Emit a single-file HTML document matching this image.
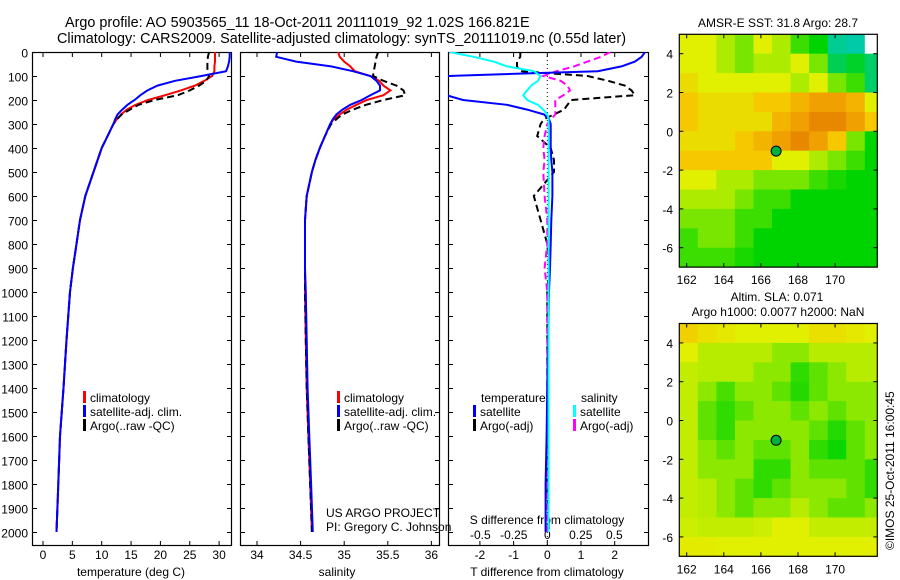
<!DOCTYPE html>
<html><head><meta charset="utf-8">
<style>
body{margin:0;background:#fff;}
svg{display:block;font-family:"Liberation Sans",sans-serif;}
text{fill:#000;}
</style></head>
<body>
<svg id="fig" width="900" height="580" viewBox="0 0 900 580" xmlns="http://www.w3.org/2000/svg">
<text x="65" y="27" font-size="14.4">Argo profile: AO 5903565_11 18-Oct-2011 20111019_92 1.02S 166.821E</text>
<text x="57" y="43" font-size="14.4">Climatology: CARS2009. Satellite-adjusted climatology: synTS_20111019.nc (0.55d later)</text>
<text x="778" y="27" font-size="12" text-anchor="middle">AMSR-E SST: 31.8 Argo: 28.7</text>
<text x="777" y="301" font-size="12" text-anchor="middle">Altim. SLA: 0.071</text>
<text x="778" y="316" font-size="12" text-anchor="middle">Argo h1000: 0.0077 h2000: NaN</text>
<text x="0" y="0" font-size="12" transform="translate(894,550) rotate(-90)">©IMOS 25-Oct-2011 16:00:45</text>
<text x="326" y="517" font-size="12">US ARGO PROJECT</text>
<text x="326" y="531" font-size="12">PI: Gregory C. Johnson</text>
<g id="layer"></g>
</svg>
<script>
// ---------- data ----------
const depths = [0,20,40,60,80,100,120,140,160,180,200,220,240,260,280,300,350,400,450,500,600,700,800,900,1000,1200,1400,1600,1800,2000];
const tempClim = [29.3,29.3,29.3,29.2,29.2,28.8,27.5,25.9,23.5,20.8,17.9,15.8,14.3,13.3,12.6,12.0,11.0,10.0,9.3,8.6,7.2,6.3,5.7,5.1,4.6,4.0,3.5,2.9,2.6,2.3];
const tempSat  = [31.8,31.8,31.7,31.5,31.2,27.0,22.5,19.5,17.8,16.6,15.6,14.4,13.5,12.7,12.3,12.0,11.0,10.0,9.3,8.6,7.2,6.3,5.7,5.1,4.6,4.0,3.5,2.9,2.6,2.3];
const tempArgo = [28.3,28.1,28.0,28.0,28.0,28.3,27.8,26.6,25.0,23.0,19.0,16.3,14.8,13.4,12.6,12.0,11.0,10.0,9.3,8.6,7.2,6.3,5.7,5.1,4.6,4.0,3.5,2.9,2.6,2.3];
const salClim = [34.93,34.95,35.0,35.07,35.12,35.3,35.4,35.45,35.53,35.45,35.26,35.14,35.03,34.95,34.88,34.84,34.78,34.72,34.67,34.63,34.57,34.55,34.55,34.55,34.55,34.56,34.57,34.59,34.61,34.63];
const salSat  = [34.23,34.22,34.45,34.85,35.1,35.3,35.37,35.41,35.41,35.3,35.2,35.07,34.98,34.91,34.87,34.84,34.78,34.72,34.67,34.63,34.57,34.55,34.55,34.55,34.56,34.57,34.58,34.6,34.62,34.64];
const salArgo = [35.39,35.37,35.36,35.35,35.34,35.33,35.45,35.6,35.68,35.7,35.45,35.25,35.1,34.98,34.91,34.85,34.78,34.72,34.67,34.63,34.57,34.55,34.55,34.55,34.55,34.56,34.57,34.59,34.61,34.63];
const tDiffSat  = [2.9,2.8,2.6,2.2,1.5,-3.0,-3.0,-3.0,-3.0,-3.0,-2.5,-1.2,-0.6,-0.1,0.05,0.1,0.1,0.1,0.12,0.15,0.15,0.12,0.1,0.08,0.05,0.03,0.0,-0.02,-0.05,-0.05];
const tDiffArgo = [-0.8,-0.8,-0.9,-0.9,-0.8,1.2,1.8,2.3,2.5,2.6,0.7,0.6,0.5,0.2,-0.1,-0.2,-0.3,0.1,0.2,0.2,-0.4,-0.2,0.0,0.05,0.0,0.0,0.0,0.0,0.0,0.05];
const sDiffSat  = [-0.73,-0.55,-0.4,-0.3,-0.1,-0.05,-0.07,-0.12,-0.15,-0.18,-0.15,-0.07,-0.03,0.0,0.01,0.01,0.01,0.01,0.01,0.01,0.01,0.01,0.01,0.01,0.01,0.01,0.01,0.01,0.01,0.01];
const sDiffArgo = [0.47,0.4,0.3,0.2,0.07,-0.03,0.1,0.15,0.17,0.12,0.06,0.06,0.06,0.06,0.03,0.0,-0.02,-0.03,-0.02,-0.03,-0.02,0.0,0.0,-0.02,0.0,0.0,0.0,0.0,0.0,0.0];
const depthTicks = [0,100,200,300,400,500,600,700,800,900,1000,1100,1200,1300,1400,1500,1600,1700,1800,1900,2000];
const tempTicks = [0,5,10,15,20,25,30];
const salTicks = [34,34.5,35,35.5,36];
const tdTicks = [-2,-1,0,1,2];
const sdTicks = [-0.5,-0.25,0,0.25,0.5];
const lonTicks = [162,164,166,168,170];
const latTicks = [4,2,0,-2,-4,-6];
// SST map (rows lat 5 -> -7, cols 1 deg from 161.6E); -1 = no data
const sstGrid = [
[3,3,2.5,2,3,2.5,1.5,1,0.3,0.2,-1],
[3,3,2.5,2,2.5,2.5,3,2,0.6,0.8,0.5],
[3.5,3,3,3,3,3,2.5,3,2,1.5,0.5],
[4,3.5,3.5,3.5,4,4,4.5,5,5,4.5,3],
[4,3.5,3.5,3.5,3.5,4.5,5,5.5,5.5,5,4],
[3.5,3.5,3.5,4,4.5,5,5.5,5,4,2,1],
[4,4,4,4,4,3,3,2.5,2,1.5,1],
[3,3,2.5,2.5,2,2,2,1.5,1.2,1,1],
[2.5,2.5,2.5,2,1.5,1.5,1,1,1,1,1],
[2,2,2,1.5,1.5,1,1,1,1,1,1],
[1.5,2,2,1.5,1,1,1,1,1,1,1],
[1.5,1.5,1.5,1.2,1,1,1,1,1,1,1]];
const slaGrid = [
[3.8,3.4,3.2,3,3,3,3,3.4,3.4,3.2,3],
[3,2.6,2.6,2.6,2.6,2.2,2.2,2.6,2.6,2.6,2.6],
[2.7,2.6,2.6,2.6,2.2,2.2,1.4,1.8,2.2,2.6,2.6],
[2.7,2.2,1.6,2.2,2.2,1.8,1.3,1.8,2.2,2.2,2.2],
[2.7,1.8,1.4,1.8,2.2,2.2,1.8,2.2,1.8,2.2,2.2],
[2.7,1.8,1.4,2.2,2.2,2.2,2.2,1.8,1.3,1.8,2.2],
[2.7,2.2,1.8,2.2,1.8,1.8,2.2,1.4,1.1,1.8,2.2],
[2.7,2.2,2.2,2.2,1.4,1.4,2.2,1.8,1.8,1.8,1.4],
[2.7,2.6,2.2,1.8,1.4,1.8,2.2,2.2,2.2,1.8,1.4],
[2.7,2.6,2.2,1.8,2.2,2.2,2.6,2.2,1.8,1.8,2.2],
[2.8,2.7,2.7,2.7,2.8,3,3,2.7,2.7,2.7,2.7],
[3.1,3.1,3,3,3,3,3,3,3,3,3]];
const argoLon = 166.82, argoLat = -1.02;

// ---------- helpers ----------
const NS="http://www.w3.org/2000/svg";
const layer=document.getElementById('layer');
function mk(tag,attrs,parent){const e=document.createElementNS(NS,tag);for(const k in attrs)e.setAttribute(k,attrs[k]);(parent||layer).appendChild(e);return e;}
const yD = d => 52 + d*0.24;
const PB = 545, PT = 52;
const panels = [
 {x0:32,x1:231,name:'temperature-panel', f:v=>43+v*5.87},
 {x0:240,x1:439,name:'salinity-panel', f:v=>257+(v-34)*87.2},
 {x0:448,x1:648,name:'difference-panel', f:v=>547.3+v*33.7, g:v=>547.3+v*134}
];
panels.forEach((p,i)=>{
  const cp=mk('clipPath',{id:'clip'+i});
  mk('rect',{x:p.x0,y:PT,width:p.x1-p.x0,height:PB-PT},cp);
});
function line(xs,i,color,name,dash){
  const pts=depths.map((d,k)=>xs[k].toFixed(1)+','+yD(d).toFixed(1)).join(' ');
  const e=mk('polyline',{points:pts,fill:'none',stroke:color,'stroke-width':2,'clip-path':'url(#clip'+i+')'});
  if(dash)e.setAttribute('stroke-dasharray',dash);
  
  
}
function txt(x,y,s,anchor,name,size){
  const e=mk('text',{x:x,y:y,'font-size':size||12,'text-anchor':anchor||'start'});
  e.textContent=s;
  
  
  return e;
}
function tick(x1,y1,x2,y2){
  const e=mk('line',{x1:x1,y1:y1,x2:x2,y2:y2,stroke:'#000','stroke-width':1});
  
  
}

// frames and axes
panels.forEach((p,i)=>{
  const r=mk('rect',{x:p.x0+0.5,y:PT+0.5,width:p.x1-p.x0,height:PB-PT,fill:'none',stroke:'#000','stroke-width':1.2});
  
  
  depthTicks.forEach(d=>{
    const y=yD(d)+0.5;
    tick(p.x0,y,p.x0+5,y);tick(p.x1-4,y,p.x1+1,y);
    if(i===0) txt(28,y+5,String(d),'end','depth-tick-label',12);
  });
});
tempTicks.forEach(v=>{const x=panels[0].f(v);tick(x,PT,x,PT+5);tick(x,PB-4,x,PB);txt(x,559,String(v),'middle','temperature-tick-label');});
salTicks.forEach(v=>{const x=panels[1].f(v);tick(x,PT,x,PT+5);tick(x,PB-4,x,PB);txt(x,559,String(v),'middle','salinity-tick-label');});
tdTicks.forEach(v=>{const x=panels[2].f(v);tick(x,PT,x,PT+5);tick(x,PB-4,x,PB);txt(x,559,String(v),'middle','t-diff-tick-label');});
sdTicks.forEach(v=>{const x=panels[2].g(v);txt(x,539,String(v),'middle','s-diff-tick-label');});
txt(131,576,'temperature (deg C)','middle','temperature-axis-title');
txt(337,576,'salinity','middle','salinity-axis-title');
txt(547,576,'T difference from climatology','middle','t-diff-axis-title');
txt(547,524,'S difference from climatology','middle','s-diff-axis-title');

// zero dotted line
const zl=mk('line',{x1:547.3,y1:PT,x2:547.3,y2:PB,stroke:'#000','stroke-width':1,'stroke-dasharray':'1,3'});



// series
line(tempClim.map(panels[0].f),0,'#ff0000','temperature-climatology-line');
line(tempArgo.map(panels[0].f),0,'#000000','temperature-argo-line','7,4');
line(tempSat.map(panels[0].f),0,'#0000ff','temperature-satellite-line');
line(salClim.map(panels[1].f),1,'#ff0000','salinity-climatology-line');
line(salArgo.map(panels[1].f),1,'#000000','salinity-argo-line','7,4');
line(salSat.map(panels[1].f),1,'#0000ff','salinity-satellite-line');
line(tDiffArgo.map(panels[2].f),2,'#000000','t-diff-argo-line','7,4');
line(sDiffArgo.map(panels[2].g),2,'#ff00ff','s-diff-argo-line','7,4');
line(tDiffSat.map(panels[2].f),2,'#0000ff','t-diff-satellite-line');
line(sDiffSat.map(panels[2].g),2,'#00ffff','s-diff-satellite-line');

// legends
function leg(x,y,color,label){
  const m=mk('rect',{x:x,y:y-11,width:3,height:12,fill:color});
  
  
  txt(x+7,y,label,'start','legend-entry');
}
[[83,'#ff0000','climatology'],[83,'#0000ff','satellite-adj. clim.'],[83,'#000000','Argo(..raw -QC)']].forEach((l,k)=>leg(l[0],402+k*14,l[1],l[2]));
[[337,'#ff0000','climatology'],[337,'#0000ff','satellite-adj. clim.'],[337,'#000000','Argo(..raw -QC)']].forEach((l,k)=>leg(l[0],402+k*14,l[1],l[2]));
txt(481,402,'temperature','start','legend-temperature-header');
txt(581,402,'salinity','start','legend-salinity-header');
leg(473,416,'#0000ff','satellite');leg(473,430,'#000000','Argo(-adj)');
leg(573,416,'#00ffff','satellite');leg(573,430,'#ff00ff','Argo(-adj)');

// maps
const stops=[[0,[0,200,210]],[1,[0,212,0]],[2,[120,230,0]],[3,[225,240,0]],[4,[245,200,0]],[5,[240,160,0]],[6,[224,112,0]]];
function col(v){
  if(v<0) return '#ffffff';
  for(let i=0;i<stops.length-1;i++){const a=stops[i],b=stops[i+1];
    if(v<=b[0]){const t=(v-a[0])/(b[0]-a[0]);return 'rgb('+a[1].map((c,j)=>Math.round(c+(b[1][j]-c)*t)).join(',')+')';}}
  return 'rgb(224,112,0)';
}
function drawMap(grid,top,name){
  const L=679.3,R=877.3,lon0=161.6,lonPx=18.55,latPx=19.4;
  const lx=lon=>686.7+(lon-162)*lonPx;
  const ly=lat=>top+(5-lat)*latPx;
  const g=mk('g',{});
  
  
  grid.forEach((row,r)=>row.forEach((v,c)=>{
    const x=lx(lon0+c), w=(c===row.length-1)?R-x:lonPx+0.5;
    const cell=mk('rect',{x:x.toFixed(1),y:ly(5-r).toFixed(1),width:w.toFixed(1),height:latPx+0.5,fill:col(v)},g);
    
    
  }));
  const fr=mk('rect',{x:L,y:top,width:R-L,height:12*latPx,fill:'none',stroke:'#000','stroke-width':1.2});
  
  
  const bottom=top+12*latPx;
  lonTicks.forEach(v=>{const x=lx(v);tick(x,top,x,top+4);tick(x,bottom-4,x,bottom);txt(x,bottom+17,String(v),'middle','lon-tick-label');});
  latTicks.forEach(v=>{const y=ly(v);tick(L,y,L+4,y);tick(R-4,y,R,y);txt(673,y+5,String(v),'end','lat-tick-label');});
  const m=mk('circle',{cx:lx(argoLon),cy:ly(argoLat),r:5,fill:'#00b040',stroke:'#000','stroke-width':1});
  
  
}
drawMap(sstGrid,34.3,'sst-map');
drawMap(slaGrid,323.5,'sla-map');
</script>
</body></html>
